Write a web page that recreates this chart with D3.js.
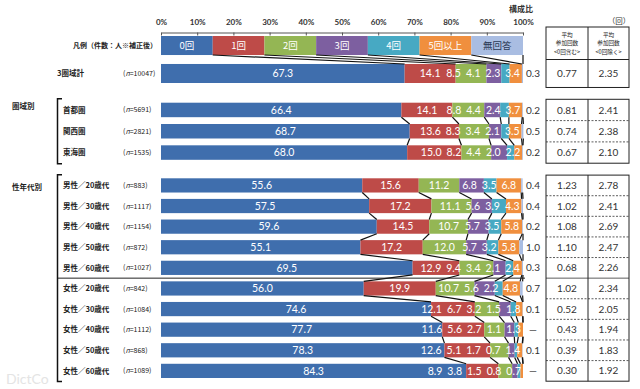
<!DOCTYPE html>
<html>
<head>
<meta charset="utf-8">
<script src="https://cdn.jsdelivr.net/npm/d3@7"></script>
<style>
body { margin: 0; background: #fff; }
text { font-family: "Noto Sans CJK JP", sans-serif; }
.num { font-family: Lato, "Open Sans", sans-serif; }
</style>
</head>
<body>
<div id="chart"></div>
<script>
var width = 640, height = 389;

// series / legend
var series = ["0回", "1回", "2回", "3回", "4回", "5回以上", "無回答"];
var colors = ["#3f6ead", "#be4b48", "#94b654", "#7d5fa0", "#47a9c3", "#f08f3e", "#a9bde2"];
var tickValues = [0, 10, 20, 30, 40, 50, 60, 70, 80, 90, 100];

// 3圏域計
var totalNames = ["3圏域計"];
var totalN = ["10047"];
var totalValues = [[67.3, 14.1, 8.5, 4.1, 2.3, 3.4, 0.3]];
var totalAvgIn = ["0.77"];
var totalAvgEx = ["2.35"];

// 圏域別
var regionNames = ["首都圏", "関西圏", "東海圏"];
var regionN = ["5691", "2821", "1535"];
var regionValues = [
  [66.4, 14.1, 8.8, 4.4, 2.4, 3.7, 0.2],
  [68.7, 13.6, 8.3, 3.4, 2.1, 3.5, 0.5],
  [68.0, 15.0, 8.2, 4.4, 2.0, 2.2, 0.2]
];
var regionAvgIn = ["0.81", "0.74", "0.67"];
var regionAvgEx = ["2.41", "2.38", "2.10"];

// 性年代別
var sexAgeNames = ["男性／20歳代", "男性／30歳代", "男性／40歳代", "男性／50歳代", "男性／60歳代",
                   "女性／20歳代", "女性／30歳代", "女性／40歳代", "女性／50歳代", "女性／60歳代"];
var sexAgeN = ["883", "1117", "1154", "872", "1027", "842", "1084", "1112", "868", "1089"];
var sexAgeValues = [
  [55.6, 15.6, 11.2, 6.8, 3.5, 6.8, 0.4],
  [57.5, 17.2, 11.1, 5.6, 3.9, 4.3, 0.4],
  [59.6, 14.5, 10.7, 5.7, 3.5, 5.8, 0.2],
  [55.1, 17.2, 12.0, 5.7, 3.2, 5.8, 1.0],
  [69.5, 12.9, 9.4, 3.4, 2.1, 2.4, 0.3],
  [56.0, 19.9, 10.7, 5.6, 2.2, 4.8, 0.7],
  [74.6, 12.1, 6.7, 3.2, 1.5, 1.8, 0.1],
  [77.7, 11.6, 5.6, 2.7, 1.1, 1.3, null],
  [78.3, 12.6, 5.1, 1.7, 0.7, 1.4, 0.1],
  [84.3, 8.9, 3.8, 1.5, 0.8, 0.7, null]
];
var sexAgeAvgIn = ["1.23", "1.02", "1.08", "1.10", "0.68", "1.02", "0.52", "0.43", "0.39", "0.30"];
var sexAgeAvgEx = ["2.78", "2.41", "2.69", "2.47", "2.26", "2.34", "2.05", "1.94", "1.83", "1.92"];

var svg = d3.select("#chart")
  .append("svg")
    .attr("width", width)
    .attr("height", height);

var x = d3.scaleLinear()
  .domain([0, 100])
  .range([161, 523]);

var col0 = 546, col1 = 588, col2 = 629;

// y scales, one per block
var yTotal = d3.scaleBand()
  .domain(["legend"].concat(totalNames))
  .range([36, 83])
  .paddingInner(0.32)
  .paddingOuter(0);

var yRegion = d3.scaleBand()
  .domain(regionNames)
  .range([102.7, 159.8])
  .paddingInner(0.32)
  .paddingOuter(0);

var ySexAge = d3.scaleBand()
  .domain(sexAgeNames)
  .range([178.3, 378])
  .paddingInner(0.31)
  .paddingOuter(0);

// top axis
var axis = svg.append("g")
  .attr("transform", "translate(0,32.5)")
  .call(d3.axisTop(x)
    .tickValues(tickValues)
    .tickSizeInner(-3)
    .tickSizeOuter(0)
    .tickPadding(8)
    .tickFormat(function(d) { return d + "%"; }));
axis.select(".domain").attr("stroke", "#555");
axis.selectAll(".tick line").attr("stroke", "#555");
axis.selectAll(".tick text")
  .attr("class", "num")
  .style("font-family", "Lato, sans-serif")
  .style("font-size", "8px")
  .style("font-weight", "bold")
  .attr("fill", "#333");

svg.append("text")
  .attr("x", 521)
  .attr("y", 12)
  .attr("text-anchor", "middle")
  .style("font-size", "8px")
  .style("font-weight", "bold")
  .attr("fill", "#333")
  .text("構成比");

svg.append("text")
  .attr("x", 619)
  .attr("y", 24)
  .attr("text-anchor", "middle")
  .style("font-size", "7.5px")
  .attr("fill", "#333")
  .text("（回）");

function cumulate(vals) {
  var c = [0];
  vals.forEach(function(v) { c.push(c[c.length - 1] + (v || 0)); });
  return c;
}

// legend bar (equal parts)
var legendCum = d3.range(8).map(function(i) { return i * 100 / 7; });
var legendG = svg.append("g");
legendG.selectAll("rect")
  .data(series)
  .enter()
  .append("rect")
    .attr("x", function(d, i) { return x(legendCum[i]); })
    .attr("y", yTotal("legend"))
    .attr("width", function(d, i) { return x(legendCum[i + 1]) - x(legendCum[i]); })
    .attr("height", yTotal.bandwidth())
    .attr("fill", function(d, i) { return colors[i]; });
legendG.selectAll("text")
  .data(series)
  .enter()
  .append("text")
    .attr("x", function(d, i) { return (x(legendCum[i]) + x(legendCum[i + 1])) / 2; })
    .attr("y", yTotal("legend") + yTotal.bandwidth() / 2)
    .attr("dy", "0.36em")
    .attr("text-anchor", "middle")
    .style("font-size", "9.5px")
    .attr("fill", function(d, i) { return i === 6 ? "#2b3a55" : "#fff"; })
    .text(function(d) { return d; });

svg.append("text")
  .attr("x", 157)
  .attr("y", yTotal("legend") + yTotal.bandwidth() / 2)
  .attr("dy", "0.36em")
  .attr("text-anchor", "end")
  .style("font-size", "7px")
  .style("font-weight", "bold")
  .attr("fill", "#222")
  .text("凡例（件数：人※補正後）");

function drawSeriesLines(cumA, yA, cumB, yB) {
  svg.append("g")
    .selectAll("line")
    .data(d3.range(1, 8))
    .enter()
    .append("line")
      .attr("x1", function(k) { return x(cumA[k]); })
      .attr("y1", yA)
      .attr("x2", function(k) { return x(cumB[k]); })
      .attr("y2", yB)
      .attr("stroke", "#111")
      .attr("stroke-width", 1.2);
}

function drawBlock(names, ns, values, y, labelX) {
  var bw = y.bandwidth();
  names.forEach(function(name, r) {
    var vals = values[r];
    var cum = cumulate(vals);
    var g = svg.append("g");
    var yc = y(name) + bw / 2;

    g.selectAll("rect")
      .data(vals)
      .enter()
      .append("rect")
        .attr("x", function(d, i) { return x(cum[i]); })
        .attr("y", y(name))
        .attr("width", function(d, i) { return x(cum[i + 1]) - x(cum[i]); })
        .attr("height", bw)
        .attr("fill", function(d, i) { return colors[i]; });

    // labels inside bar (0回 .. 5回以上)
    var labels = g.selectAll("text.lab")
      .data(vals.slice(0, 6))
      .enter()
      .append("text")
        .attr("class", "lab num")
        .attr("y", yc)
        .attr("dy", "0.36em")
        .attr("text-anchor", "middle")
        .style("font-size", "10.5px")
        .attr("fill", "#fff")
        .text(function(d) { return d3.format(".1f")(d); });

    var nodes = labels.nodes();
    var w = nodes.map(function(n) { return n.getComputedTextLength(); });
    var pos = vals.slice(0, 6).map(function(d, i) { return (x(cum[i]) + x(cum[i + 1])) / 2; });
    // push small labels leftwards so they don't overlap
    pos[5] = Math.min(pos[5], x(cum[6]) - w[5] / 2 - 2);
    for (var i = 4; i >= 1; i--) {
      pos[i] = Math.min(pos[i], pos[i + 1] - w[i + 1] / 2 - 5 - w[i] / 2);
    }
    labels.attr("x", function(d, i) { return pos[i]; });

    // 無回答 outside
    g.append("text")
      .attr("class", "num")
      .attr("x", 533)
      .attr("y", yc)
      .attr("dy", "0.36em")
      .attr("text-anchor", "middle")
      .style("font-size", "10px")
      .attr("fill", "#333")
      .text(vals[6] === null ? "—" : d3.format(".1f")(vals[6]));

    // left labels
    g.append("text")
      .attr("x", labelX)
      .attr("y", yc)
      .attr("dy", "0.36em")
      .style("font-size", "7.5px")
      .style("font-weight", "bold")
      .attr("fill", "#222")
      .text(name);

    var nt = g.append("text")
      .attr("x", 123)
      .attr("y", yc)
      .attr("dy", "0.36em")
      .style("font-size", "7px")
      .attr("fill", "#222");
    nt.append("tspan").text("(");
    nt.append("tspan").style("font-style", "italic").text("n");
    nt.append("tspan").text("=" + ns[r] + ")");

    if (r > 0) {
      var prev = names[r - 1];
      drawSeriesLines(cumulate(values[r - 1]), y(prev) + bw, cum, y(name));
    }
  });
}

function drawTable(names, avgIn, avgEx, y, top, solidAfter) {
  var step = y.step();
  var first = y(names[0]) + y.bandwidth() / 2 - step / 2;
  var last = y(names[names.length - 1]) + y.bandwidth() / 2 + step / 2;
  var g = svg.append("g");
  if (top === undefined) top = first;

  g.selectAll("line.sep")
    .data(names.slice(1))
    .enter()
    .append("line")
      .attr("x1", col0)
      .attr("x2", col2)
      .attr("y1", function(d) { return y(d) + y.bandwidth() / 2 - step / 2; })
      .attr("y2", function(d) { return y(d) + y.bandwidth() / 2 - step / 2; })
      .attr("stroke", "#333")
      .attr("stroke-width", 0.8)
      .attr("stroke-dasharray", function(d, i) { return i === solidAfter ? null : "2,1.5"; });

  g.append("rect")
    .attr("x", col0)
    .attr("y", top)
    .attr("width", col2 - col0)
    .attr("height", last - top)
    .attr("fill", "none")
    .attr("stroke", "#222")
    .attr("stroke-width", 1);
  g.append("line")
    .attr("x1", col1).attr("x2", col1)
    .attr("y1", top).attr("y2", last)
    .attr("stroke", "#222");

  names.forEach(function(name, r) {
    var yc = y(name) + y.bandwidth() / 2;
    g.append("text")
      .attr("class", "num")
      .attr("x", (col0 + col1) / 2)
      .attr("y", yc)
      .attr("dy", "0.36em")
      .attr("text-anchor", "middle")
      .style("font-size", "10px")
      .attr("fill", "#333")
      .text(avgIn[r]);
    g.append("text")
      .attr("class", "num")
      .attr("x", (col1 + col2) / 2)
      .attr("y", yc)
      .attr("dy", "0.36em")
      .attr("text-anchor", "middle")
      .style("font-size", "10px")
      .attr("fill", "#333")
      .text(avgEx[r]);
  });
  return first;
}

// blocks
drawBlock(totalNames, totalN, totalValues, yTotal, 57);
drawSeriesLines(legendCum, yTotal("legend") + yTotal.bandwidth(), cumulate(totalValues[0]), yTotal(totalNames[0]));
drawBlock(regionNames, regionN, regionValues, yRegion, 63);
drawBlock(sexAgeNames, sexAgeN, sexAgeValues, ySexAge, 63);

// tables
var totalTop = drawTable(totalNames, totalAvgIn, totalAvgEx, yTotal, 27, -1);
svg.append("line")
  .attr("x1", col0).attr("x2", col2)
  .attr("y1", totalTop).attr("y2", totalTop)
  .attr("stroke", "#222");
var headerLines = [["平均", "参加回数", "<0回含む>"], ["平均", "参加回数", "<0回除く>"]];
headerLines.forEach(function(lines, c) {
  lines.forEach(function(t, j) {
    svg.append("text")
      .attr("x", c === 0 ? (col0 + col1) / 2 : (col1 + col2) / 2)
      .attr("y", 34.5 + j * 8.6)
      .attr("dy", "0.36em")
      .attr("text-anchor", "middle")
      .style("font-size", "5.6px")
      .attr("fill", "#222")
      .text(t);
  });
});
drawTable(regionNames, regionAvgIn, regionAvgEx, yRegion, undefined, -1);
drawTable(sexAgeNames, sexAgeAvgIn, sexAgeAvgEx, ySexAge, undefined, 4);

// group labels and brackets
svg.append("text")
  .attr("x", 12)
  .attr("y", yRegion(regionNames[0]) + 4)
  .attr("dy", "0.36em")
  .style("font-size", "7.5px")
  .style("font-weight", "bold")
  .attr("fill", "#222")
  .text("圏域別");
svg.append("text")
  .attr("x", 12)
  .attr("y", ySexAge(sexAgeNames[0]) + 9)
  .attr("dy", "0.36em")
  .style("font-size", "7.5px")
  .style("font-weight", "bold")
  .attr("fill", "#222")
  .text("性年代別");

function bracket(y0, y1) {
  svg.append("path")
    .attr("d", "M62," + y0 + "H57.5V" + y1 + "H62")
    .attr("fill", "none")
    .attr("stroke", "#111")
    .attr("stroke-width", 1.5);
}
bracket(yRegion.range()[0] - 4, yRegion.range()[1] + 4);
bracket(ySexAge.range()[0] - 3.5, ySexAge.range()[1] + 3.5);

// male / female separator
var sepY = ySexAge(sexAgeNames[4]) + ySexAge.bandwidth() + (ySexAge.step() - ySexAge.bandwidth()) / 2;
svg.append("line")
  .attr("x1", 58).attr("x2", 525)
  .attr("y1", sepY).attr("y2", sepY)
  .attr("stroke", "#222")
  .attr("stroke-width", 1);

// watermark
svg.append("text")
  .attr("x", 6)
  .attr("y", 384)
  .style("font-family", "Lato, sans-serif")
  .style("font-size", "14px")
  .attr("fill", "#e4e4e4")
  .text("DictCo");
</script>
</body>
</html>
